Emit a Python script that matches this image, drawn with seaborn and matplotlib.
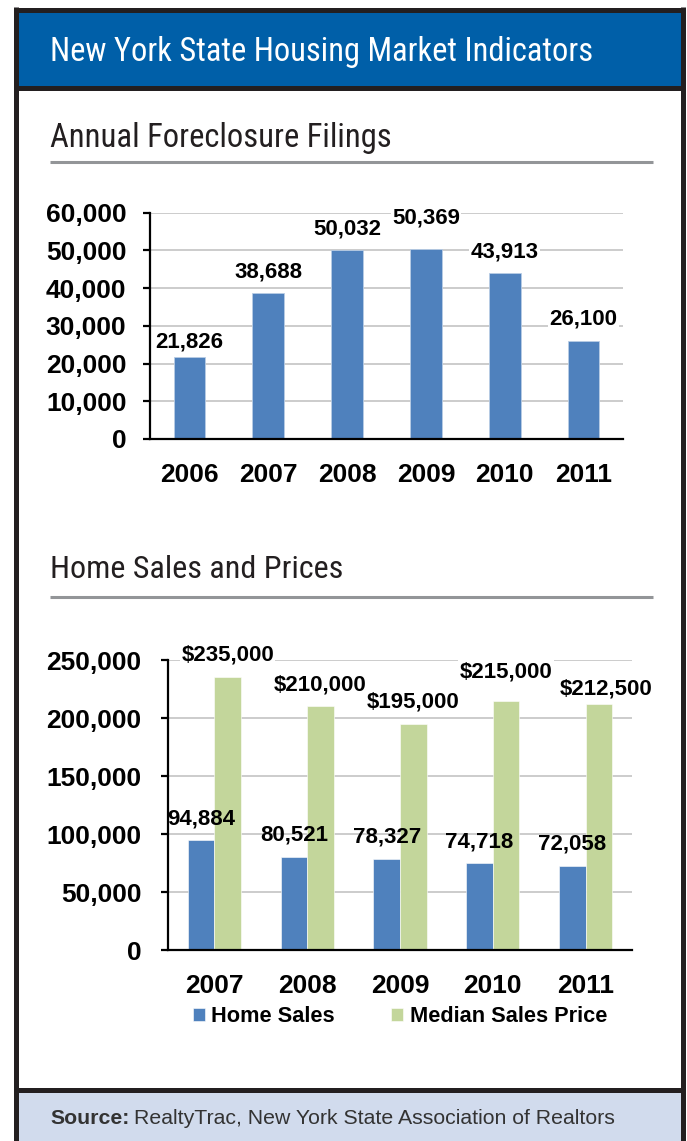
import numpy as np
import pandas as pd
import seaborn as sns
from matplotlib import pyplot as plt
from matplotlib import font_manager
from matplotlib.patches import Rectangle
from matplotlib.lines import Line2D
from matplotlib.ticker import FuncFormatter

# chart data
years_filings = ['2006', '2007', '2008', '2009', '2010', '2011']
filings = [21826, 38688, 50032, 50369, 43913, 26100]

years_sales = ['2007', '2008', '2009', '2010', '2011']
home_sales = [94884, 80521, 78327, 74718, 72058]
median_price = [235000, 210000, 195000, 215000, 212500]

# how far (px) each value label sits above its bar, as placed in the original
filings_lift = [15, 21, 21, 31, 21, 22]
sales_lift = [21, 22, 22, 21, 22]
price_lift = [22, 21, 22, 29, 14]
price_shift = [0, 0, 0, 0, 7]

BLUE = '#4F81BD'
GREEN = '#C3D69B'
HEADER = '#005FA8'
FOOTER = '#D1DBED'
FRAME = '#231F20'

W, H = 687, 1141


def fx(px):
    return px / W


def fy(py):
    return 1 - py / H


def has_font(name):
    try:
        font_manager.findfont(name, fallback_to_default=False)
        return True
    except ValueError:
        return False


# condensed face for the headings if one is around
narrow = 'Liberation Sans'
for cand in ['Liberation Sans Narrow', 'Roboto Condensed', 'Open Sans Condensed']:
    if has_font(cand):
        narrow = cand
        break

sns.set_style('white')
plt.rcParams['font.family'] = ['Liberation Sans', 'DejaVu Sans']
plt.rcParams['text.color'] = 'black'
plt.rcParams['xtick.color'] = 'black'
plt.rcParams['ytick.color'] = 'black'

fig = plt.figure(figsize=(W / 100, H / 100), dpi=100)
renderer = fig.canvas.get_renderer()


def fit_width(t, target):
    w = t.get_window_extent(renderer=renderer).width
    t.set_fontsize(t.get_fontsize() * target / w)


# ---- frame, header band, footer band
fig.patches.append(Rectangle((fx(15.5), fy(87.5)), fx(682.5) - fx(15.5), fy(9.5) - fy(87.5),
                             transform=fig.transFigure, facecolor=HEADER, edgecolor='none', zorder=0))
fig.patches.append(Rectangle((fx(15.5), 0), fx(682.5) - fx(15.5), fy(1089.5),
                             transform=fig.transFigure, facecolor=FOOTER, edgecolor='none', zorder=0))
frame_lw = 3.6
for xs, ys in [((15.5, 15.5), (7, H)), ((682.5, 682.5), (7, H)),
               ((14, 684), (9.5, 9.5)), ((14, 684), (87.5, 87.5)), ((14, 684), (1089.5, 1089.5))]:
    fig.add_artist(Line2D([fx(x) for x in xs], [fy(y) for y in ys], color=FRAME, lw=frame_lw,
                          solid_capstyle='butt', transform=fig.transFigure))

# section rules
for y in (162, 597):
    fig.add_artist(Line2D([fx(50), fx(653)], [fy(y), fy(y)], color='#939598', lw=2.2,
                          solid_capstyle='butt', transform=fig.transFigure))

t = fig.text(fx(50), fy(61.5), 'New York State Housing Market Indicators', color='white',
             fontsize=26, family=narrow, va='baseline', ha='left')
fit_width(t, 543)
t = fig.text(fx(50), fy(147), 'Annual Foreclosure Filings', color=FRAME,
             fontsize=26, family=narrow, va='baseline', ha='left')
fit_width(t, 342)
t = fig.text(fx(50), fy(578), 'Home Sales and Prices', color=FRAME,
             fontsize=26, family=narrow, va='baseline', ha='left')
fit_width(t, 293)

# source line
s1 = fig.text(fx(50), fy(1118), 'Source:', fontsize=15.3, fontweight='bold', color='#333333',
              va='center', ha='left')
w1 = s1.get_window_extent(renderer=renderer).width
fig.text(fx(50 + w1 + 5), fy(1118), 'RealtyTrac, New York State Association of Realtors',
         fontsize=15.3, color='#333333', va='center', ha='left')

thousands = FuncFormatter(lambda v, p: f'{v:,.0f}')


def style_axis(ax, n, top, step):
    ax.set_xlim(-0.5, n - 0.5)
    ax.set_ylim(0, top)
    ax.set_yticks(np.arange(0, top + 1, step))
    ax.yaxis.set_major_formatter(thousands)
    ax.set_xlabel('')
    ax.set_ylabel('')
    ax.set_facecolor('none')
    ax.yaxis.grid(True, color='#BFBFBF', lw=1.1)
    ax.xaxis.grid(False)
    ax.set_axisbelow(True)
    for side in ('top', 'right'):
        ax.spines[side].set_visible(False)
    for side in ('left', 'bottom'):
        ax.spines[side].set_color('black')
        ax.spines[side].set_linewidth(1.6)
    ax.set_xticks(np.arange(-0.5, n, 1), minor=True)
    ax.tick_params(axis='x', which='major', length=0, pad=17, labelsize=19)
    ax.tick_params(axis='x', which='minor', length=5, width=1.6, direction='out', color='black')
    ax.tick_params(axis='y', which='major', length=5, width=1.6, direction='out', color='black',
                   pad=12, labelsize=19, left=True)
    for lab in ax.get_xticklabels() + ax.get_yticklabels():
        lab.set_fontweight('bold')
        lab.set_color('black')


def value_labels(ax, bars, texts, lifts, shifts=None, boxed=True):
    shifts = shifts or [0] * len(texts)
    for bar, txt, dy, dx in zip(bars, texts, lifts, shifts):
        ax.annotate(txt, (bar.get_x() + bar.get_width() / 2, bar.get_height()),
                    xytext=(dx * 0.72, dy * 0.72), textcoords='offset points',
                    ha='center', va='center', fontsize=16, fontweight='bold', color='black',
                    bbox=dict(facecolor='white', edgecolor='none', pad=1) if boxed else None)


# ---- chart 1: foreclosure filings
ax1 = fig.add_axes([fx(150), fy(439), (623 - 150) / W, (439 - 212.7) / H])
sns.barplot(x=years_filings, y=filings, color=BLUE, saturation=1, width=0.4,
            edgecolor='#B9CDE5', linewidth=0.6, ax=ax1)
style_axis(ax1, len(years_filings), 60000, 10000)
value_labels(ax1, ax1.containers[0], [f'{v:,}' for v in filings], filings_lift)

# ---- chart 2: home sales and prices
sales = pd.DataFrame({
    'year': years_sales * 2,
    'series': ['Home Sales'] * len(years_sales) + ['Median Sales Price'] * len(years_sales),
    'value': home_sales + median_price,
})
ax2 = fig.add_axes([fx(168), fy(950), (632 - 168) / W, (950 - 660) / H])
sns.barplot(data=sales, x='year', y='value', hue='series', palette=[BLUE, GREEN], saturation=1,
            width=0.572, edgecolor='white', linewidth=0.4, ax=ax2)
style_axis(ax2, len(years_sales), 250000, 50000)
ax2.tick_params(axis='y', pad=14)
value_labels(ax2, ax2.containers[0], [f'{v:,}' for v in home_sales], sales_lift, boxed=False)
value_labels(ax2, ax2.containers[1], [f'${v:,}' for v in median_price], price_lift, price_shift)

handles, labels = ax2.get_legend_handles_labels()
ax2.get_legend().remove()
fig.legend(handles, labels, loc='center', bbox_to_anchor=(fx(400), fy(1017)),
           bbox_transform=fig.transFigure, ncol=2, frameon=False,
           prop=dict(family='Liberation Sans', weight='bold', size=15.7),
           handlelength=0.55, handleheight=0.55, handletextpad=0.3, columnspacing=2.6,
           borderpad=0, borderaxespad=0)

fig.savefig('out.png', dpi=100)
plt.close(fig)
